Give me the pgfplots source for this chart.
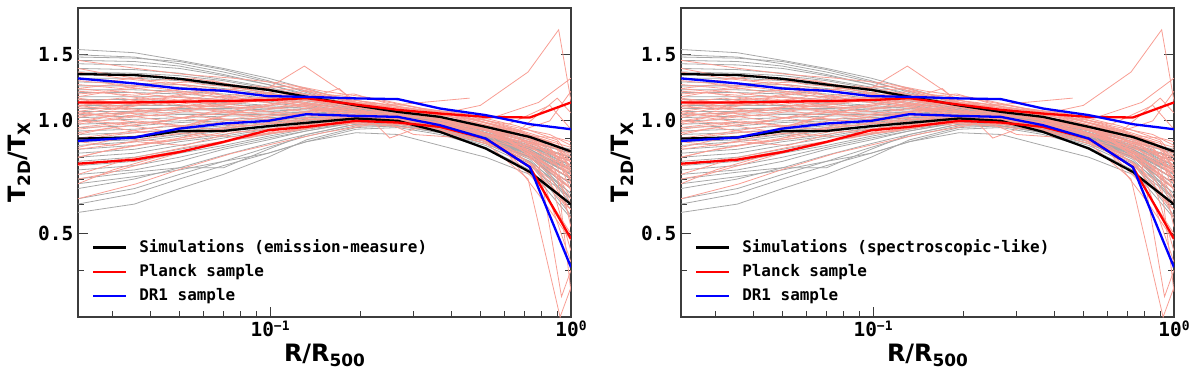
\documentclass[border=0pt]{standalone}
\usepackage{fontspec}
\setmainfont{DejaVu Sans}
\newfontfamily\mono{DejaVu Sans Mono}
\usepackage{pgfplots}
\pgfplotsset{compat=1.18}

\definecolor{simgrey}{RGB}{168,168,168}
\definecolor{obsred}{RGB}{248,158,148}
\definecolor{framegrey}{RGB}{60,60,60}

\newcommand{\sub}[1]{\raisebox{-5bp}{\fontsize{17}{17}\selectfont\bfseries #1}}
\newcommand{\supm}[1]{\raisebox{6.5bp}{\fontsize{13}{13}\selectfont #1}}

\pgfplotsset{
 sim/.style={color=simgrey, line width=0.8bp, forget plot},
 obs/.style={color=obsred, line width=0.8bp, forget plot},
 thk/.style={line width=2.3bp, forget plot},
}
\pgfplotsset{
  scale only axis, width=493bp, height=309bp,
  xtick={0.1,1}, xticklabels={10\supm{−1},10\supm{0}},
  minor xtick={0.03,0.04,0.05,0.06,0.07,0.08,0.09,0.2,0.3,0.4,0.5,0.6,0.7,0.8,0.9},
  ytick={0.5,1,1.5}, yticklabels={0.5,1.0,1.5},
  minor ytick={0.4,0.6,0.7,0.8,0.9},
  xtick pos=left, yticklabel pos=left, tick align=inside,
  major tick length=10.5bp, minor tick length=6.5bp,
  every tick/.style={color=framegrey, line width=1bp},
  axis line style={color=framegrey, line width=1.2bp},
  tick label style={font=\mono\bfseries\fontsize{19.5}{20}\selectfont},
  yticklabel style={anchor=east, inner sep=0pt, xshift=-4.5bp},
  xticklabel style={anchor=base, inner sep=0pt, yshift=-19.7bp},
  label style={font=\bfseries\fontsize{24}{26}\selectfont},
  ylabel={T\sub{2D}/T\sub{X}},
  xlabel={R/R\sub{500}},
  ylabel style={at={(axis description cs:-0.1197,0.5)}, anchor=center},
  xlabel style={at={(axis description cs:0.5,0)}, anchor=center, yshift=-38bp},
  legend style={draw=none, fill=none, at={(rel axis cs:0.0284,0.2464)}, anchor=north west,
    inner sep=0pt, outer sep=0pt, row sep=11bp,
    font=\mono\bfseries\fontsize{16}{16}\selectfont,
    nodes={inner sep=0pt},
    /tikz/every even column/.append style={text height=11.7bp, text depth=0bp},
    /tikz/every odd column/.append style={column sep=12bp}},
  legend image code/.code={\draw[#1] (0bp,0bp) -- (33bp,0bp);},
  legend cell align=left,
}

\newcommand{\simlines}{%
\addplot[sim] coordinates{(0.023,1.55)(0.0354,1.52)(0.05,1.45)(0.07,1.38)(0.0985,1.30)(0.132,1.22)(0.193,1.12)(0.266,1.06)(0.367,1.00)(0.521,0.92)(0.73,0.82)(1,0.70)};
\addplot[sim] coordinates{(0.023,1.50)(0.0354,1.48)(0.05,1.42)(0.07,1.35)(0.0985,1.27)(0.132,1.20)(0.193,1.11)(0.266,1.05)(0.367,0.99)(0.521,0.91)(0.73,0.80)(1,0.68)};
\addplot[sim] coordinates{(0.023,1.48)(0.0354,1.47)(0.05,1.44)(0.07,1.37)(0.0985,1.28)(0.132,1.19)(0.193,1.10)(0.266,1.04)(0.367,0.98)(0.521,0.90)(0.73,0.82)(1,0.74)};
\addplot[sim] coordinates{(0.023,1.45)(0.0354,1.44)(0.05,1.40)(0.07,1.33)(0.0985,1.25)(0.132,1.18)(0.193,1.10)(0.266,1.05)(0.367,1.00)(0.521,0.93)(0.73,0.85)(1,0.78)};
\addplot[sim] coordinates{(0.023,1.42)(0.0354,1.41)(0.05,1.38)(0.07,1.32)(0.0985,1.25)(0.132,1.17)(0.193,1.09)(0.266,1.03)(0.367,0.97)(0.521,0.89)(0.73,0.80)(1,0.66)};
\addplot[sim] coordinates{(0.023,1.38)(0.0354,1.37)(0.05,1.34)(0.07,1.29)(0.0985,1.23)(0.132,1.16)(0.193,1.09)(0.266,1.04)(0.367,0.99)(0.521,0.92)(0.73,0.84)(1,0.72)};
\addplot[sim] coordinates{(0.023,1.35)(0.0354,1.34)(0.05,1.32)(0.07,1.28)(0.0985,1.22)(0.132,1.16)(0.193,1.10)(0.266,1.05)(0.367,1.01)(0.521,0.94)(0.73,0.86)(1,0.80)};
\addplot[sim] coordinates{(0.023,1.30)(0.0354,1.30)(0.05,1.28)(0.07,1.24)(0.0985,1.19)(0.132,1.14)(0.193,1.08)(0.266,1.03)(0.367,0.98)(0.521,0.91)(0.73,0.82)(1,0.70)};
\addplot[sim] coordinates{(0.023,1.27)(0.0354,1.26)(0.05,1.25)(0.07,1.22)(0.0985,1.18)(0.132,1.13)(0.193,1.08)(0.266,1.04)(0.367,1.00)(0.521,0.93)(0.73,0.85)(1,0.75)};
\addplot[sim] coordinates{(0.023,1.24)(0.0354,1.24)(0.05,1.23)(0.07,1.20)(0.0985,1.16)(0.132,1.12)(0.193,1.07)(0.266,1.03)(0.367,0.99)(0.521,0.92)(0.73,0.83)(1,0.62)};
\addplot[sim] coordinates{(0.023,1.21)(0.0354,1.21)(0.05,1.20)(0.07,1.18)(0.0985,1.15)(0.132,1.11)(0.193,1.07)(0.266,1.03)(0.367,1.00)(0.521,0.95)(0.73,0.88)(1,0.82)};
\addplot[sim] coordinates{(0.023,1.19)(0.0354,1.19)(0.05,1.18)(0.07,1.16)(0.0985,1.13)(0.132,1.10)(0.193,1.06)(0.266,1.02)(0.367,0.98)(0.521,0.91)(0.73,0.81)(1,0.68)};
\addplot[sim] coordinates{(0.023,1.16)(0.0354,1.16)(0.05,1.16)(0.07,1.14)(0.0985,1.12)(0.132,1.09)(0.193,1.06)(0.266,1.03)(0.367,0.99)(0.521,0.93)(0.73,0.86)(1,0.76)};
\addplot[sim] coordinates{(0.023,1.14)(0.0354,1.14)(0.05,1.13)(0.07,1.12)(0.0985,1.10)(0.132,1.08)(0.193,1.05)(0.266,1.02)(0.367,0.98)(0.521,0.91)(0.73,0.82)(1,0.72)};
\addplot[sim] coordinates{(0.023,1.12)(0.0354,1.12)(0.05,1.12)(0.07,1.11)(0.0985,1.09)(0.132,1.08)(0.193,1.05)(0.266,1.03)(0.367,1.00)(0.521,0.95)(0.73,0.89)(1,0.84)};
\addplot[sim] coordinates{(0.023,1.10)(0.0354,1.10)(0.05,1.10)(0.07,1.09)(0.0985,1.08)(0.132,1.07)(0.193,1.05)(0.266,1.02)(0.367,0.97)(0.521,0.90)(0.73,0.80)(1,0.64)};
\addplot[sim] coordinates{(0.023,1.08)(0.0354,1.08)(0.05,1.08)(0.07,1.08)(0.0985,1.07)(0.132,1.06)(0.193,1.04)(0.266,1.02)(0.367,0.99)(0.521,0.93)(0.73,0.85)(1,0.78)};
\addplot[sim] coordinates{(0.023,1.06)(0.0354,1.06)(0.05,1.07)(0.07,1.07)(0.0985,1.06)(0.132,1.05)(0.193,1.04)(0.266,1.01)(0.367,0.97)(0.521,0.90)(0.73,0.81)(1,0.70)};
\addplot[sim] coordinates{(0.023,1.04)(0.0354,1.05)(0.05,1.05)(0.07,1.05)(0.0985,1.05)(0.132,1.05)(0.193,1.04)(0.266,1.02)(0.367,0.98)(0.521,0.92)(0.73,0.84)(1,0.74)};
\addplot[sim] coordinates{(0.023,1.02)(0.0354,1.03)(0.05,1.04)(0.07,1.04)(0.0985,1.04)(0.132,1.04)(0.193,1.03)(0.266,1.01)(0.367,0.97)(0.521,0.91)(0.73,0.83)(1,0.60)};
\addplot[sim] coordinates{(0.023,1.00)(0.0354,1.01)(0.05,1.02)(0.07,1.03)(0.0985,1.03)(0.132,1.04)(0.193,1.03)(0.266,1.01)(0.367,0.98)(0.521,0.93)(0.73,0.87)(1,0.80)};
\addplot[sim] coordinates{(0.023,0.98)(0.0354,0.99)(0.05,1.00)(0.07,1.01)(0.0985,1.02)(0.132,1.03)(0.193,1.03)(0.266,1.01)(0.367,0.97)(0.521,0.90)(0.73,0.80)(1,0.66)};
\addplot[sim] coordinates{(0.023,0.96)(0.0354,0.97)(0.05,0.99)(0.07,1.00)(0.0985,1.01)(0.132,1.02)(0.193,1.03)(0.266,1.02)(0.367,0.99)(0.521,0.94)(0.73,0.88)(1,0.82)};
\addplot[sim] coordinates{(0.023,0.94)(0.0354,0.95)(0.05,0.97)(0.07,0.99)(0.0985,1.00)(0.132,1.02)(0.193,1.03)(0.266,1.01)(0.367,0.97)(0.521,0.91)(0.73,0.83)(1,0.72)};
\addplot[sim] coordinates{(0.023,0.92)(0.0354,0.93)(0.05,0.95)(0.07,0.97)(0.0985,0.99)(0.132,1.01)(0.193,1.02)(0.266,1.01)(0.367,0.98)(0.521,0.92)(0.73,0.85)(1,0.76)};
\addplot[sim] coordinates{(0.023,0.90)(0.0354,0.91)(0.05,0.94)(0.07,0.96)(0.0985,0.98)(0.132,1.00)(0.193,1.02)(0.266,1.00)(0.367,0.96)(0.521,0.89)(0.73,0.79)(1,0.62)};
\addplot[sim] coordinates{(0.023,0.88)(0.0354,0.89)(0.05,0.92)(0.07,0.95)(0.0985,0.97)(0.132,1.00)(0.193,1.02)(0.266,1.01)(0.367,0.97)(0.521,0.91)(0.73,0.84)(1,0.74)};
\addplot[sim] coordinates{(0.023,0.86)(0.0354,0.88)(0.05,0.91)(0.07,0.94)(0.0985,0.97)(0.132,0.99)(0.193,1.01)(0.266,1.00)(0.367,0.96)(0.521,0.90)(0.73,0.82)(1,0.70)};
\addplot[sim] coordinates{(0.023,0.84)(0.0354,0.86)(0.05,0.89)(0.07,0.92)(0.0985,0.96)(0.132,0.99)(0.193,1.01)(0.266,1.00)(0.367,0.97)(0.521,0.92)(0.73,0.86)(1,0.78)};
\addplot[sim] coordinates{(0.023,0.82)(0.0354,0.84)(0.05,0.88)(0.07,0.91)(0.0985,0.95)(0.132,0.98)(0.193,1.01)(0.266,1.00)(0.367,0.95)(0.521,0.88)(0.73,0.78)(1,0.58)};
\addplot[sim] coordinates{(0.023,0.80)(0.0354,0.82)(0.05,0.86)(0.07,0.90)(0.0985,0.94)(0.132,0.97)(0.193,1.00)(0.266,0.99)(0.367,0.96)(0.521,0.90)(0.73,0.83)(1,0.72)};
\addplot[sim] coordinates{(0.023,0.78)(0.0354,0.80)(0.05,0.84)(0.07,0.88)(0.0985,0.92)(0.132,0.96)(0.193,1.00)(0.266,0.99)(0.367,0.95)(0.521,0.89)(0.73,0.80)(1,0.66)};
\addplot[sim] coordinates{(0.023,0.76)(0.0354,0.78)(0.05,0.82)(0.07,0.86)(0.0985,0.91)(0.132,0.95)(0.193,0.99)(0.266,0.99)(0.367,0.96)(0.521,0.91)(0.73,0.85)(1,0.80)};
\addplot[sim] coordinates{(0.023,0.74)(0.0354,0.76)(0.05,0.80)(0.07,0.85)(0.0985,0.90)(0.132,0.94)(0.193,0.99)(0.266,0.98)(0.367,0.94)(0.521,0.87)(0.73,0.77)(1,0.56)};
\addplot[sim] coordinates{(0.023,0.72)(0.0354,0.74)(0.05,0.78)(0.07,0.84)(0.0985,0.89)(0.132,0.94)(0.193,0.99)(0.266,0.98)(0.367,0.95)(0.521,0.90)(0.73,0.83)(1,0.74)};
\addplot[sim] coordinates{(0.023,0.70)(0.0354,0.73)(0.05,0.75)(0.07,0.75)(0.0985,0.84)(0.132,0.92)(0.193,0.98)(0.266,0.98)(0.367,0.94)(0.521,0.88)(0.73,0.80)(1,0.68)};
\addplot[sim] coordinates{(0.023,0.66)(0.0354,0.70)(0.05,0.75)(0.07,0.81)(0.0985,0.87)(0.132,0.92)(0.193,0.98)(0.266,0.97)(0.367,0.93)(0.521,0.86)(0.73,0.76)(1,0.62)};
\addplot[sim] coordinates{(0.023,0.62)(0.0354,0.66)(0.05,0.72)(0.07,0.78)(0.0985,0.85)(0.132,0.91)(0.193,0.97)(0.266,0.97)(0.367,0.94)(0.521,0.89)(0.73,0.82)(1,0.72)};
\addplot[sim] coordinates{(0.023,0.57)(0.0354,0.60)(0.05,0.66)(0.07,0.72)(0.0985,0.80)(0.132,0.89)(0.193,0.96)(0.266,0.97)(0.367,0.93)(0.521,0.87)(0.73,0.78)(1,0.64)};
\addplot[sim] coordinates{(0.023,0.60)(0.0354,0.64)(0.05,0.70)(0.07,0.76)(0.0985,0.82)(0.132,0.88)(0.193,0.95)(0.266,0.96)(0.367,0.92)(0.521,0.85)(0.73,0.74)(1,0.55)};
\addplot[sim] coordinates{(0.023,0.68)(0.0354,0.71)(0.05,0.74)(0.07,0.78)(0.0985,0.82)(0.132,0.88)(0.193,0.93)(0.266,0.92)(0.367,0.86)(0.521,0.80)(0.73,0.72)(1,0.60)};
}

\newcommand{\obslines}{%
\addplot[obs] coordinates{(0.023,1.12)(0.032,1.15)(0.045,1.10)(0.065,1.18)(0.09,1.13)(0.13,1.20)(0.19,1.12)(0.28,1.08)(0.42,1.04)(0.62,0.95)(0.85,0.85)(1,0.72)};
\addplot[obs] coordinates{(0.023,1.05)(0.032,1.02)(0.045,1.08)(0.065,1.04)(0.09,1.10)(0.13,1.06)(0.19,1.09)(0.28,1.03)(0.42,1.00)(0.62,0.90)(0.85,0.72)(1,0.55)};
\addplot[obs] coordinates{(0.023,0.95)(0.032,0.98)(0.045,0.94)(0.065,1.02)(0.09,0.99)(0.13,1.05)(0.19,1.02)(0.28,1.06)(0.42,0.99)(0.62,0.93)(0.85,0.88)(1,0.80)};
\addplot[obs] coordinates{(0.023,1.25)(0.032,1.22)(0.045,1.27)(0.065,1.20)(0.09,1.24)(0.13,1.15)(0.19,1.18)(0.28,1.08)(0.42,1.05)(0.62,0.97)(0.85,0.92)(1,0.86)};
\addplot[obs] coordinates{(0.023,0.85)(0.032,0.90)(0.045,0.88)(0.065,0.95)(0.09,0.93)(0.13,1.00)(0.19,0.97)(0.28,1.02)(0.42,0.97)(0.62,0.88)(0.85,0.78)(1,0.62)};
\addplot[obs] coordinates{(0.023,1.18)(0.032,1.20)(0.045,1.16)(0.065,1.22)(0.09,1.17)(0.13,1.40)(0.19,1.14)(0.28,1.06)(0.42,1.03)(0.62,0.98)(0.85,1.10)(1,0.95)};
\addplot[obs] coordinates{(0.023,0.72)(0.032,0.78)(0.045,0.82)(0.065,0.86)(0.09,0.92)(0.13,0.95)(0.19,1.00)(0.28,0.98)(0.42,0.95)(0.62,0.85)(0.85,0.70)(1,0.45)};
\addplot[obs] coordinates{(0.023,1.08)(0.032,1.10)(0.045,1.13)(0.065,1.09)(0.09,1.15)(0.13,1.10)(0.19,1.05)(0.28,1.07)(0.42,1.02)(0.62,0.94)(0.85,0.84)(1,0.70)};
\addplot[obs] coordinates{(0.023,1.00)(0.032,1.04)(0.045,1.00)(0.065,1.06)(0.09,1.03)(0.13,1.08)(0.19,1.04)(0.28,1.00)(0.42,0.98)(0.62,0.92)(0.85,1.00)(1,1.20)};
\addplot[obs] coordinates{(0.023,1.35)(0.032,1.30)(0.045,1.26)(0.065,1.28)(0.09,1.20)(0.13,1.22)(0.19,1.12)(0.28,1.10)(0.42,1.03)(0.62,0.96)(0.85,0.88)(1,0.78)};
\addplot[obs] coordinates{(0.023,0.90)(0.032,0.93)(0.045,0.97)(0.065,0.95)(0.09,1.00)(0.13,0.98)(0.19,1.03)(0.28,1.00)(0.42,0.96)(0.62,0.89)(0.85,0.76)(1,0.60)};
\addplot[obs] coordinates{(0.023,1.15)(0.03,1.12)(0.042,1.17)(0.06,1.14)(0.085,1.19)(0.12,1.16)(0.17,1.10)(0.25,1.06)(0.37,1.02)(0.55,0.93)(0.78,0.80)(1,0.66)};
\addplot[obs] coordinates{(0.023,0.98)(0.03,1.01)(0.042,1.04)(0.06,1.00)(0.085,1.07)(0.12,1.04)(0.17,1.08)(0.25,1.02)(0.37,0.97)(0.55,0.91)(0.78,0.83)(1,0.74)};
\addplot[obs] coordinates{(0.023,1.22)(0.03,1.25)(0.042,1.20)(0.06,1.18)(0.085,1.23)(0.12,1.17)(0.17,1.13)(0.25,1.09)(0.37,1.04)(0.55,0.96)(0.78,0.86)(1,0.70)};
\addplot[obs] coordinates{(0.023,0.80)(0.03,0.84)(0.042,0.88)(0.06,0.92)(0.085,0.90)(0.12,0.97)(0.17,0.99)(0.25,1.03)(0.37,0.98)(0.55,0.92)(0.78,0.86)(1,0.76)};
\addplot[obs] coordinates{(0.023,1.10)(0.03,1.07)(0.042,1.12)(0.06,1.09)(0.085,1.14)(0.12,1.09)(0.17,1.11)(0.25,1.05)(0.37,1.00)(0.55,0.94)(0.78,0.78)(0.93,0.34)(1,0.40)};
\addplot[obs] coordinates{(0.023,1.02)(0.03,1.06)(0.042,1.03)(0.06,1.08)(0.085,1.05)(0.12,1.10)(0.17,1.06)(0.25,1.03)(0.37,0.99)(0.55,1.02)(0.78,1.12)(1,1.30)};
\addplot[obs] coordinates{(0.023,0.68)(0.03,0.74)(0.042,0.80)(0.06,0.85)(0.085,0.91)(0.12,0.94)(0.17,0.99)(0.25,0.97)(0.37,0.94)(0.55,0.86)(0.78,0.74)(1,0.58)};
\addplot[obs] coordinates{(0.023,1.30)(0.03,1.28)(0.042,1.32)(0.06,1.25)(0.085,1.22)(0.12,1.24)(0.17,1.15)(0.25,1.10)(0.37,1.05)(0.55,0.98)(0.78,0.90)(1,0.82)};
\addplot[obs] coordinates{(0.023,0.93)(0.03,0.96)(0.042,0.92)(0.06,0.99)(0.085,0.97)(0.12,1.02)(0.17,1.00)(0.25,1.04)(0.37,0.98)(0.55,0.90)(0.78,0.68)(1,0.50)};
\addplot[obs] coordinates{(0.023,1.06)(0.03,1.09)(0.042,1.06)(0.06,1.11)(0.085,1.08)(0.12,1.12)(0.17,1.22)(0.25,0.90)(0.37,1.01)(0.55,0.95)(0.78,0.90)(1,0.85)};
\addplot[obs] coordinates{(0.023,0.88)(0.03,0.86)(0.042,0.91)(0.06,0.94)(0.085,0.97)(0.12,1.00)(0.17,1.02)(0.25,0.99)(0.37,0.96)(0.55,0.88)(0.78,0.75)(1,0.42)};
\addplot[obs] coordinates{(0.023,1.10)(0.036,1.13)(0.052,1.16)(0.075,1.12)(0.11,1.18)(0.15,1.14)(0.22,1.10)(0.32,1.05)(0.46,1.01)(0.66,0.94)(0.9,0.86)(1,0.78)};
\addplot[obs] coordinates{(0.023,1.45)(0.036,1.38)(0.052,1.33)(0.075,1.30)(0.11,1.26)(0.15,1.20)(0.22,1.15)(0.32,1.08)(0.46,1.03)(0.66,0.95)(0.9,0.85)(1,0.74)};
\addplot[obs] coordinates{(0.023,0.96)(0.036,1.00)(0.052,0.97)(0.075,1.04)(0.11,1.01)(0.15,1.06)(0.22,1.02)(0.32,1.00)(0.46,0.97)(0.66,0.90)(0.9,0.80)(1,0.65)};
\addplot[obs] coordinates{(0.023,0.62)(0.036,0.68)(0.052,0.75)(0.075,0.82)(0.11,0.88)(0.15,0.93)(0.22,0.98)(0.32,0.98)(0.46,0.95)(0.66,0.87)(0.9,0.82)(1,0.76)};
\addplot[obs] coordinates{(0.023,1.20)(0.036,1.17)(0.052,1.22)(0.075,1.16)(0.11,1.20)(0.15,1.16)(0.22,1.12)(0.32,1.07)(0.46,1.02)(0.66,0.93)(0.9,1.15)(1,1.05)};
\addplot[obs] coordinates{(0.023,1.03)(0.036,1.06)(0.052,1.09)(0.075,1.05)(0.11,1.12)(0.15,1.07)(0.22,1.05)(0.32,1.04)(0.46,0.99)(0.66,0.91)(0.9,0.76)(1,0.52)};
\addplot[obs] coordinates{(0.023,0.84)(0.036,0.88)(0.052,0.86)(0.075,0.93)(0.11,0.96)(0.15,0.99)(0.22,1.01)(0.32,1.00)(0.46,0.96)(0.66,0.92)(0.9,0.90)(1,0.88)};
\addplot[obs] coordinates{(0.023,1.14)(0.036,1.10)(0.052,1.14)(0.075,1.11)(0.11,1.15)(0.15,1.12)(0.22,1.09)(0.32,1.03)(0.46,1.00)(0.66,0.93)(0.9,0.84)(1,0.68)};
\addplot[obs] coordinates{(0.023,0.76)(0.036,0.80)(0.052,0.85)(0.075,0.89)(0.11,0.94)(0.15,0.97)(0.22,1.00)(0.32,0.99)(0.46,0.95)(0.66,0.88)(0.9,0.72)(1,0.35)};
\addplot[obs] coordinates{(0.023,1.00)(0.036,0.98)(0.052,1.02)(0.075,1.06)(0.11,1.03)(0.15,1.08)(0.22,1.04)(0.32,1.02)(0.46,0.98)(0.66,0.95)(0.9,0.88)(1,0.72)};
\addplot[obs] coordinates{(0.023,1.28)(0.036,1.24)(0.052,1.25)(0.075,1.20)(0.11,1.24)(0.15,1.18)(0.22,1.14)(0.32,1.08)(0.46,1.04)(0.66,0.97)(0.9,0.89)(1,0.80)};
\addplot[obs] coordinates{(0.023,1.13)(0.028,1.10)(0.04,1.15)(0.055,1.12)(0.08,1.16)(0.115,1.13)(0.16,1.08)(0.23,1.05)(0.34,1.01)(0.5,0.97)(0.72,0.90)(0.95,0.80)(1,0.78)};
\addplot[obs] coordinates{(0.023,0.92)(0.028,0.95)(0.04,0.99)(0.055,0.96)(0.08,1.02)(0.115,1.00)(0.16,1.05)(0.23,1.03)(0.34,0.98)(0.5,0.90)(0.72,0.78)(0.95,0.60)(1,0.58)};
\addplot[obs] coordinates{(0.023,1.06)(0.028,1.03)(0.04,1.07)(0.055,1.10)(0.08,1.08)(0.115,1.13)(0.16,1.09)(0.23,1.04)(0.34,1.00)(0.5,0.94)(0.72,0.82)(0.95,0.68)(1,0.66)};
\addplot[obs] coordinates{(0.023,0.70)(0.028,0.72)(0.04,0.78)(0.055,0.84)(0.08,0.90)(0.115,0.94)(0.16,0.98)(0.23,0.99)(0.34,0.96)(0.5,0.89)(0.72,0.80)(0.95,0.70)(1,0.69)};
\addplot[obs] coordinates{(0.023,1.16)(0.028,1.19)(0.04,1.14)(0.055,1.18)(0.08,1.14)(0.115,1.17)(0.16,1.12)(0.23,1.08)(0.34,1.03)(0.5,1.10)(0.72,1.35)(0.91,1.75)(1,1.13)};
\addplot[obs] coordinates{(0.023,0.99)(0.028,1.02)(0.04,0.98)(0.055,1.03)(0.08,1.00)(0.115,1.05)(0.16,1.02)(0.23,1.01)(0.34,0.97)(0.5,0.90)(0.72,0.84)(0.95,0.74)(1,0.73)};
\addplot[obs] coordinates{(0.023,1.38)(0.028,1.34)(0.04,1.28)(0.055,1.30)(0.08,1.24)(0.115,1.19)(0.16,1.16)(0.23,1.09)(0.34,1.04)(0.5,0.96)(0.72,0.86)(0.95,0.76)(1,0.75)};
\addplot[obs] coordinates{(0.023,0.88)(0.028,0.91)(0.04,0.94)(0.055,0.92)(0.08,0.97)(0.115,0.99)(0.16,1.03)(0.23,1.01)(0.34,0.97)(0.5,0.90)(0.72,0.70)(0.92,0.30)(1,0.36)};
\addplot[obs] coordinates{(0.023,1.09)(0.028,1.13)(0.04,1.10)(0.055,1.15)(0.08,1.12)(0.115,1.16)(0.16,1.10)(0.23,1.05)(0.34,1.02)(0.5,0.95)(0.72,0.88)(0.95,0.84)(1,0.84)};
\addplot[obs] coordinates{(0.023,0.80)(0.028,0.83)(0.04,0.87)(0.055,0.90)(0.08,0.95)(0.115,0.98)(0.16,1.01)(0.23,1.00)(0.34,0.96)(0.5,0.89)(0.72,0.81)(0.95,0.72)(1,0.71)};
\addplot[obs] coordinates{(0.023,1.22)(0.028,1.20)(0.04,1.23)(0.055,1.19)(0.08,1.22)(0.115,1.16)(0.16,1.12)(0.23,1.07)(0.34,1.03)(0.5,0.96)(0.72,0.88)(0.95,0.79)(1,0.78)};
\addplot[obs] coordinates{(0.023,1.04)(0.03,1.08)(0.045,1.05)(0.07,1.11)(0.1,1.08)(0.15,1.12)(0.22,1.09)(0.32,1.12)(0.46,1.15)};
\addplot[obs] coordinates{(0.023,1.12)(0.033,1.09)(0.048,1.14)(0.07,1.10)(0.1,1.16)(0.14,1.11)(0.2,1.06)(0.3,0.92)(0.45,0.90)(0.6,0.84)(0.8,0.62)(1,0.48)};
}

\newcommand{\boldlines}{%
\addplot[thk, black] coordinates{(0.023,1.333)(0.0354,1.325)(0.05,1.295)(0.07,1.25)(0.0985,1.21)(0.132,1.16)(0.193,1.10)(0.266,1.057)(0.367,1.025)(0.521,0.964)(0.73,0.906)(1,0.829)};
\addplot[thk, black] coordinates{(0.023,0.897)(0.0354,0.903)(0.05,0.939)(0.07,0.940)(0.0985,0.968)(0.132,0.988)(0.193,1.015)(0.266,1.0)(0.367,0.935)(0.521,0.844)(0.73,0.731)(1,0.599)};
\addplot[thk, red] coordinates{(0.023,1.12)(0.0354,1.12)(0.05,1.125)(0.07,1.13)(0.0985,1.136)(0.132,1.15)(0.193,1.105)(0.266,1.07)(0.367,1.046)(0.521,1.025)(0.73,1.021)(1,1.12)};
\addplot[thk, red] coordinates{(0.023,0.769)(0.0354,0.788)(0.05,0.826)(0.07,0.879)(0.0985,0.944)(0.132,0.964)(0.193,1.0)(0.266,0.99)(0.367,0.964)(0.521,0.897)(0.73,0.753)(1,0.485)};
\addplot[thk, blue] coordinates{(0.023,1.298)(0.0354,1.259)(0.05,1.22)(0.07,1.203)(0.0985,1.164)(0.132,1.159)(0.193,1.148)(0.266,1.143)(0.367,1.079)(0.521,1.036)(0.73,0.980)(1,0.950)};
\addplot[thk, blue] coordinates{(0.023,0.884)(0.0354,0.903)(0.05,0.954)(0.07,0.984)(0.0985,1.0)(0.132,1.042)(0.193,1.031)(0.266,1.025)(0.367,0.974)(0.521,0.897)(0.73,0.753)(1,0.407)};
\addlegendimage{black, line width=2.3bp}
\addlegendimage{red, line width=2.3bp}
\addlegendimage{blue, line width=2.3bp}
}

\begin{document}
\begin{tikzpicture}
\useasboundingbox (0,0) rectangle (1200bp,379bp);
\begin{axis}[xmode=log, ymode=log, xmin=0.023, xmax=1, ymin=0.3, ymax=2.0,
  at={(78bp,62bp)}, anchor=south west,
  legend entries={Simulations (emission-measure),Planck sample,DR1 sample}]
\simlines
\obslines
\boldlines
\end{axis}
\begin{axis}[xmode=log, ymode=log, xmin=0.023, xmax=1, ymin=0.3, ymax=2.0,
  at={(681bp,62bp)}, anchor=south west,
  legend entries={Simulations (spectroscopic-like),Planck sample,DR1 sample}]
\simlines
\obslines
\boldlines
\end{axis}
\end{tikzpicture}
\end{document}
